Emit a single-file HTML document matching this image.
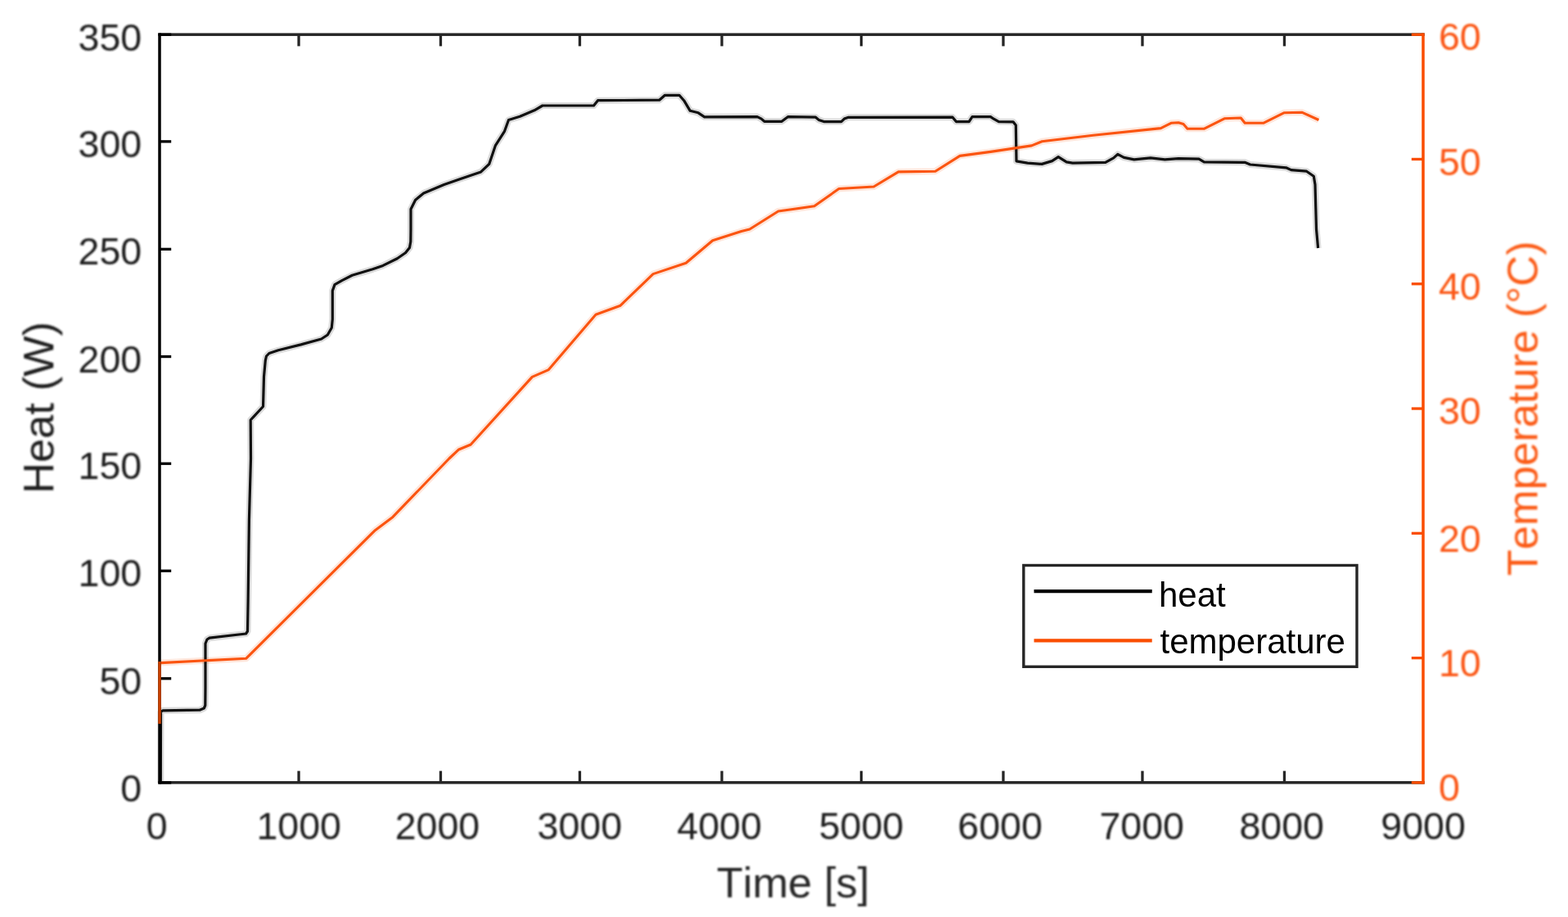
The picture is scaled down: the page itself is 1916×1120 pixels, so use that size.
<!DOCTYPE html>
<html lang="en">
<head>
<meta charset="utf-8">
<title>Heat and temperature over time</title>
<style>
html,body{margin:0;padding:0;background:#fff;}
body{width:1916px;height:1120px;overflow:hidden;}
svg{display:block;}
text{font-family:"Liberation Sans",Arial,Helvetica,sans-serif;font-kerning:none;font-variant-ligatures:none;}
.tk{font-size:46.5px;fill:#1c1c1c;}
.tr{font-size:46.5px;fill:#FB5712;}
.lb{font-size:52.5px;}
.lx{font-size:52.5px;}
.lg{font-size:42.0px;fill:#000;}
</style>
</head>
<body>
<svg width="1916" height="1120" viewBox="0 0 1916 1120">
<defs><filter id="soft" x="0" y="0" width="1916" height="1120" filterUnits="userSpaceOnUse"><feGaussianBlur stdDeviation="1"/></filter></defs>
<rect x="0" y="0" width="1916" height="1120" fill="#ffffff"/>
<g id="chart">
<g id="plot">
<g id="curves" fill="none" stroke-linejoin="round">
<polyline stroke="#000000" stroke-opacity="0.14" stroke-width="8" points="196.3,956.0 196.5,869.5 199.0,867.8 244.0,867.2 249.3,865.0 250.8,861.5 251.0,840.0 251.0,786.0 253.0,781.0 256.0,779.2 300.5,774.0 302.5,771.0 303.1,735.4 304.4,635.0 306.5,560.0 306.2,513.0 321.5,496.5 322.5,460.0 324.3,440.3 325.5,435.0 328.9,431.5 340.1,427.8 367.7,420.9 392.7,414.0 400.3,409.0 405.3,400.2 406.3,390.0 406.3,355.1 409.0,347.6 417.8,342.6 430.3,336.3 455.4,328.8 467.9,324.4 485.4,315.7 495.5,308.8 500.5,302.5 501.8,295.0 502.0,280.0 502.0,255.5 507.6,244.2 517.6,236.0 542.6,225.5 562.7,218.4 587.7,209.9 597.7,200.4 605.3,177.9 616.5,160.3 621.5,146.5 635.3,142.3 652.9,134.8 662.9,129.0 725.5,129.0 730.5,122.7 805.7,122.2 812.5,116.3 830.0,116.3 835.7,122.7 843.3,135.3 853.3,137.8 860.8,142.8 925.3,142.6 930.3,145.1 934.0,148.3 955.3,148.3 960.3,144.5 963.0,142.6 996.7,143.2 1000.4,146.4 1006.7,148.6 1028.0,148.6 1031.7,145.1 1036.8,143.3 1164.0,143.2 1168.4,148.6 1184.1,148.6 1188.0,142.6 1210.4,142.6 1214.2,145.2 1220.4,148.6 1238.0,148.8 1241.3,153.0 1242.0,196.8 1255.6,199.1 1273.1,200.4 1285.6,196.6 1293.2,191.6 1303.2,197.9 1310.7,199.1 1350.8,198.4 1360.8,192.9 1365.8,188.4 1373.3,192.4 1385.8,194.9 1405.9,192.9 1423.4,194.9 1440.0,193.7 1465.0,194.2 1471.3,197.8 1521.0,198.3 1527.7,201.0 1571.5,204.8 1577.8,207.6 1596.6,209.2 1605.3,215.2 1607.0,225.5 1608.5,280.0 1610.6,303.0"/>
<polyline stroke="#FA4D00" stroke-opacity="0.14" stroke-width="8" points="196.5,809.6 300.6,804.3 458.4,647.7 480.0,631.4 548.9,560.0 560.2,549.3 575.2,543.0 650.3,460.4 670.4,451.6 728.0,384.3 758.1,373.2 798.1,334.6 838.2,321.3 870.8,293.8 905.9,282.5 916.0,280.0 951.0,258.0 960.0,256.8 995.0,251.8 1025.1,230.5 1067.7,228.0 1097.8,209.9 1142.9,209.2 1172.9,190.4 1210.5,185.4 1260.6,177.9 1273.1,172.8 1335.8,165.3 1418.4,156.6 1431.0,150.3 1440.0,149.8 1446.0,151.6 1451.0,157.3 1471.1,157.3 1496.1,144.8 1516.2,144.0 1521.2,150.3 1543.7,150.3 1568.8,137.8 1591.3,137.3 1611.4,146.5"/>
<polyline stroke="#111111" stroke-width="3.2" points="196.3,956.0 196.5,869.5 199.0,867.8 244.0,867.2 249.3,865.0 250.8,861.5 251.0,840.0 251.0,786.0 253.0,781.0 256.0,779.2 300.5,774.0 302.5,771.0 303.1,735.4 304.4,635.0 306.5,560.0 306.2,513.0 321.5,496.5 322.5,460.0 324.3,440.3 325.5,435.0 328.9,431.5 340.1,427.8 367.7,420.9 392.7,414.0 400.3,409.0 405.3,400.2 406.3,390.0 406.3,355.1 409.0,347.6 417.8,342.6 430.3,336.3 455.4,328.8 467.9,324.4 485.4,315.7 495.5,308.8 500.5,302.5 501.8,295.0 502.0,280.0 502.0,255.5 507.6,244.2 517.6,236.0 542.6,225.5 562.7,218.4 587.7,209.9 597.7,200.4 605.3,177.9 616.5,160.3 621.5,146.5 635.3,142.3 652.9,134.8 662.9,129.0 725.5,129.0 730.5,122.7 805.7,122.2 812.5,116.3 830.0,116.3 835.7,122.7 843.3,135.3 853.3,137.8 860.8,142.8 925.3,142.6 930.3,145.1 934.0,148.3 955.3,148.3 960.3,144.5 963.0,142.6 996.7,143.2 1000.4,146.4 1006.7,148.6 1028.0,148.6 1031.7,145.1 1036.8,143.3 1164.0,143.2 1168.4,148.6 1184.1,148.6 1188.0,142.6 1210.4,142.6 1214.2,145.2 1220.4,148.6 1238.0,148.8 1241.3,153.0 1242.0,196.8 1255.6,199.1 1273.1,200.4 1285.6,196.6 1293.2,191.6 1303.2,197.9 1310.7,199.1 1350.8,198.4 1360.8,192.9 1365.8,188.4 1373.3,192.4 1385.8,194.9 1405.9,192.9 1423.4,194.9 1440.0,193.7 1465.0,194.2 1471.3,197.8 1521.0,198.3 1527.7,201.0 1571.5,204.8 1577.8,207.6 1596.6,209.2 1605.3,215.2 1607.0,225.5 1608.5,280.0 1610.6,303.0"/>
<polyline stroke="#FB5410" stroke-width="3.1" points="196.5,809.6 300.6,804.3 458.4,647.7 480.0,631.4 548.9,560.0 560.2,549.3 575.2,543.0 650.3,460.4 670.4,451.6 728.0,384.3 758.1,373.2 798.1,334.6 838.2,321.3 870.8,293.8 905.9,282.5 916.0,280.0 951.0,258.0 960.0,256.8 995.0,251.8 1025.1,230.5 1067.7,228.0 1097.8,209.9 1142.9,209.2 1172.9,190.4 1210.5,185.4 1260.6,177.9 1273.1,172.8 1335.8,165.3 1418.4,156.6 1431.0,150.3 1440.0,149.8 1446.0,151.6 1451.0,157.3 1471.1,157.3 1496.1,144.8 1516.2,144.0 1521.2,150.3 1543.7,150.3 1568.8,137.8 1591.3,137.3 1611.4,146.5"/>
</g>
<g fill="#262626">
<rect x="193.25" y="40.45" width="1547.5" height="3.5"/>
<rect x="193.25" y="954.05" width="1547.5" height="3.5"/>
<rect x="363.4" y="42.2" width="3.3" height="14.2"/>
<rect x="363.4" y="941.5999999999999" width="3.3" height="14.2"/>
<rect x="536.8" y="42.2" width="3.3" height="14.2"/>
<rect x="536.8" y="941.5999999999999" width="3.3" height="14.2"/>
<rect x="706.8" y="42.2" width="3.3" height="14.2"/>
<rect x="706.8" y="941.5999999999999" width="3.3" height="14.2"/>
<rect x="880.4" y="42.2" width="3.3" height="14.2"/>
<rect x="880.4" y="941.5999999999999" width="3.3" height="14.2"/>
<rect x="1050.8" y="42.2" width="3.3" height="14.2"/>
<rect x="1050.8" y="941.5999999999999" width="3.3" height="14.2"/>
<rect x="1224.3" y="42.2" width="3.3" height="14.2"/>
<rect x="1224.3" y="941.5999999999999" width="3.3" height="14.2"/>
<rect x="1394.3" y="42.2" width="3.3" height="14.2"/>
<rect x="1394.3" y="941.5999999999999" width="3.3" height="14.2"/>
<rect x="1567.8" y="42.2" width="3.3" height="14.2"/>
<rect x="1567.8" y="941.5999999999999" width="3.3" height="14.2"/>
</g>
<g fill="#000000">
<rect x="193.25" y="40.45" width="3.5" height="917.0999999999999"/>
<rect x="195.0" y="954.2" width="14.2" height="3.3"/>
<rect x="195.0" y="827.1" width="14.2" height="3.3"/>
<rect x="195.0" y="695.6" width="14.2" height="3.3"/>
<rect x="195.0" y="564.6" width="14.2" height="3.3"/>
<rect x="195.0" y="433.9" width="14.2" height="3.3"/>
<rect x="195.0" y="302.7" width="14.2" height="3.3"/>
<rect x="195.0" y="171.2" width="14.2" height="3.3"/>
<rect x="195.0" y="40.6" width="14.2" height="3.3"/>
</g>
<rect x="193.25" y="808" width="3.5" height="76" fill="#C84000"/>
<g fill="#FA4D00">
<rect x="1737.25" y="40.45" width="3.5" height="917.0999999999999"/>
<rect x="1724.8" y="954.2" width="14.2" height="3.3"/>
<rect x="1724.8" y="802.0" width="14.2" height="3.3"/>
<rect x="1724.8" y="649.7" width="14.2" height="3.3"/>
<rect x="1724.8" y="497.4" width="14.2" height="3.3"/>
<rect x="1724.8" y="345.1" width="14.2" height="3.3"/>
<rect x="1724.8" y="192.8" width="14.2" height="3.3"/>
<rect x="1724.8" y="40.6" width="14.2" height="3.3"/>
</g>
</g>
<g id="labels" filter="url(#soft)">
<text class="tk" x="191.6" y="1025" text-anchor="middle">0</text>
<text class="tk" x="365.2" y="1025" text-anchor="middle">1000</text>
<text class="tk" x="534.4" y="1025" text-anchor="middle">2000</text>
<text class="tk" x="708.3" y="1025" text-anchor="middle">3000</text>
<text class="tk" x="879.1" y="1025" text-anchor="middle">4000</text>
<text class="tk" x="1052.4" y="1025" text-anchor="middle">5000</text>
<text class="tk" x="1222.1" y="1025" text-anchor="middle">6000</text>
<text class="tk" x="1395.2" y="1025" text-anchor="middle">7000</text>
<text class="tk" x="1566.2" y="1025" text-anchor="middle">8000</text>
<text class="tk" x="1739.1" y="1025" text-anchor="middle">9000</text>
<text class="tk" x="173.2" y="978.5" text-anchor="end">0</text>
<text class="tk" x="173.2" y="847.5" text-anchor="end">50</text>
<text class="tk" x="173.2" y="716.3" text-anchor="end">100</text>
<text class="tk" x="173.2" y="585.3" text-anchor="end">150</text>
<text class="tk" x="173.2" y="454.6" text-anchor="end">200</text>
<text class="tk" x="173.2" y="323.3" text-anchor="end">250</text>
<text class="tk" x="173.2" y="192.3" text-anchor="end">300</text>
<text class="tk" x="173.2" y="61.5" text-anchor="end">350</text>
<text class="tr" x="1758" y="978.4" text-anchor="start">0</text>
<text class="tr" x="1758" y="826.0" text-anchor="start">10</text>
<text class="tr" x="1758" y="673.5" text-anchor="start">20</text>
<text class="tr" x="1758" y="518.2" text-anchor="start">30</text>
<text class="tr" x="1758" y="366.0" text-anchor="start">40</text>
<text class="tr" x="1758" y="213.7" text-anchor="start">50</text>
<text class="tr" x="1758" y="61.4" text-anchor="start">60</text>
<text class="lx" fill="#262626" x="969" y="1096" text-anchor="middle">Time [s]</text>
<text class="lb" fill="#1c1c1c" transform="translate(65.2 497.9) rotate(-90)" text-anchor="middle">Heat (W)</text>
<text class="lb" fill="#FB5C18" transform="translate(1878.5 498.8) rotate(-90)" text-anchor="middle">Temperature (°C)</text>
</g>
<g id="legend">
<rect x="1250.8" y="690.5" width="407.2" height="123.8" fill="#ffffff" stroke="#262626" stroke-width="3.4"/>
<line x1="1263.5" y1="722.1" x2="1407.7" y2="722.1" stroke="#000000" stroke-width="4.2"/>
<line x1="1263.5" y1="782.4" x2="1407.7" y2="782.4" stroke="#FA4D00" stroke-width="4.2"/>
<text class="lg" x="1416" y="741.3">heat</text>
<text class="lg" x="1417.5" y="798.3">temperature</text>
</g>
</g>
</svg>
</body>
</html>
